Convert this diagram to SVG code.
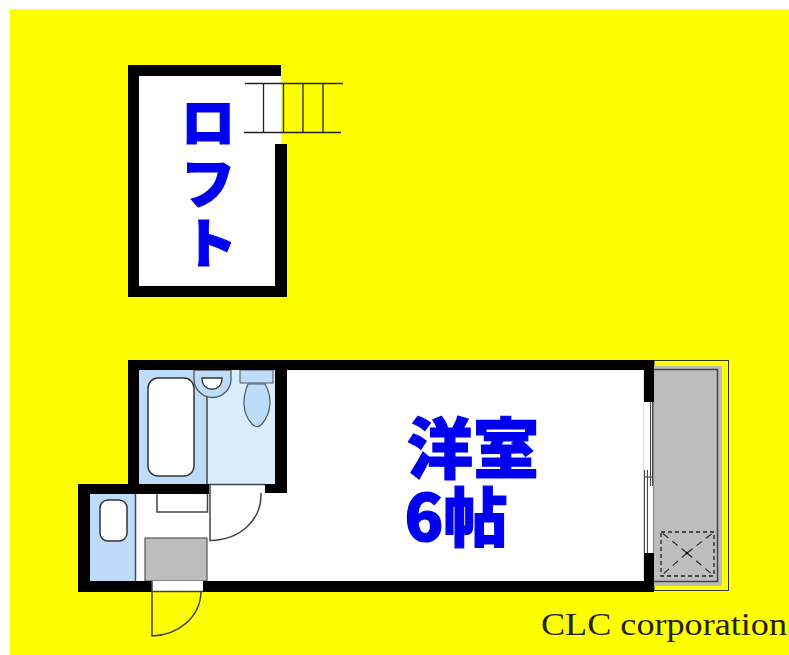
<svg xmlns="http://www.w3.org/2000/svg" width="789" height="655" viewBox="0 0 789 655">
<style>
.wall{fill:#000}
.ln{fill:none;stroke:#444;stroke-width:1.5}
.lab{font-family:"Noto Sans CJK JP","Liberation Sans",sans-serif;font-weight:900;fill:#0000f0;stroke:#0000f0;stroke-width:1.2;text-anchor:middle}
</style>
<rect width="789" height="655" fill="#fff"/>
<rect x="10" y="9" width="779" height="646" fill="#ff0"/>
<g id="loft">
<rect x="133" y="70" width="148" height="222" fill="#fff"/>
<rect x="275" y="144" width="8" height="148" fill="#fff"/>
<path class="wall" d="M128 65H281V76H139V286H275V144H287V297H128Z"/>
<text class="lab" x="208" y="143" font-size="54">ロ</text>
<text class="lab" x="208" y="204" font-size="54">フ</text>
<text class="lab" x="210" y="264" font-size="54">ト</text>
</g>
<g id="stairs" stroke="#222" stroke-width="1.3" fill="none">
<path d="M245 83.500H343M244 132.500H341M263.500 84V132M283.500 84V132M303 84V132M323 84V132"/>
</g>
<g id="balcony">
<rect x="654" y="360.500" width="74.500" height="230" fill="#ff0" stroke="#333" stroke-width="1"/>
<rect x="654" y="366" width="68" height="220" fill="#bdbdbd"/>
<path class="ln" d="M654 369.500H717.500V581.500H654"/>
<rect x="661" y="532" width="53" height="44" fill="none" stroke="#222" stroke-width="1.300" stroke-dasharray="4 3"/>
<path d="M687 553L661 532M687 553L714 532M687 553L661 576M687 553L714 576" fill="none" stroke="#222" stroke-width="1.100" stroke-dasharray="7 5"/>
<circle cx="687" cy="553" r="1.300" fill="#000"/>
</g>
<g id="floor">
<path fill="#fff" d="M139 370H643V581H90V494H139Z"/>
</g>
<g id="bath">
<rect x="139" y="370" width="136" height="114" fill="#daedfd"/>
<rect x="139" y="370" width="68" height="114" fill="#bcdcfa"/>
<path class="ln" d="M207 370V484"/>
<rect x="148" y="378" width="46" height="98" rx="10" fill="#fff" stroke="#333" stroke-width="1.500"/>
<path d="M194 370V379A18.500 18.500 0 0 0 231 379V370Z" fill="#bcdcfa" stroke="#555" stroke-width="1.300"/>
<path d="M202 378H222C222 393 202 393 202 378Z" fill="#fff" stroke="#333" stroke-width="1.300"/>
<rect x="240" y="370" width="33" height="13" fill="#bcdcfa" stroke="#555" stroke-width="1"/>
<path d="M248 384H265C272 396 272 412 262 424Q257 429 252 424C241 412 243 396 248 384Z" fill="#bcdcfa" stroke="#555" stroke-width="1.200"/>
</g>
<g id="washroom">
<rect x="90" y="494" width="45" height="87" fill="#bcdcfa"/>
<path class="ln" d="M135.500 494V581"/>
<rect x="100" y="500" width="27" height="41" rx="8" fill="#fff" stroke="#333" stroke-width="1.500"/>
<path class="ln" d="M157 494V512H207.500V494"/>
<rect x="145" y="538" width="62" height="43" fill="#bdbdbd" stroke="#555" stroke-width="1.200"/>
</g>
<g id="walls">
<path class="wall" fill-rule="evenodd" d="M128 360H654V592H78V484H128ZM139 370H275V484H139ZM90 494H265V493H287V370H644V581H90Z"/>
<rect x="209" y="484" width="56" height="10" fill="#fff"/>
<rect x="152" y="581" width="51" height="11" fill="#fff"/>
<rect x="644" y="402" width="10" height="151" fill="#fff"/>
</g>
<g id="doors">
<path class="ln" d="M209 484.500H265M210 484V540.500C240 540 262 520 261 493"/>
<path class="ln" d="M152 581V636C178 635 200 618 201 592M152 591.500H203"/>
</g>
<g id="window" stroke="#444" fill="none" stroke-width="1.100">
<path d="M644.500 470V553M647.500 470V553M650.500 402V486M652.500 402V486M645 477H654"/>
<path d="M653.500 402V553" stroke="#888"/>
</g>
<g id="room">
<text class="lab" x="473" y="473" font-size="66">洋室</text>
<text class="lab" x="456" y="541" font-size="64">6帖</text>
</g>
<text id="credit" x="541" y="635" font-family="Liberation Serif,serif" font-size="32" fill="#222" textLength="246" lengthAdjust="spacingAndGlyphs">CLC corporation</text>
</svg>
